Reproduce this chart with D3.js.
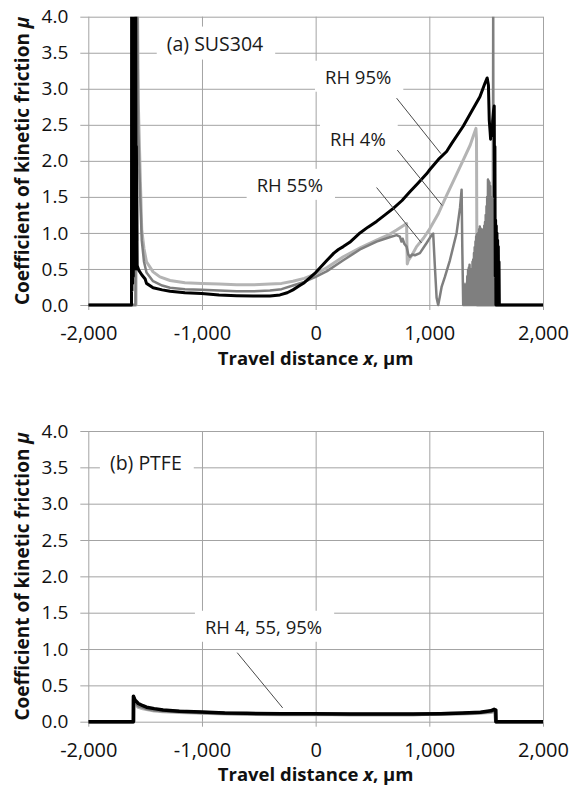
<!DOCTYPE html>
<html>
<head>
<meta charset="utf-8">
<script src="https://cdn.jsdelivr.net/npm/d3@7"></script>
<style>
  html, body { margin: 0; background: #fff; }
</style>
</head>
<body>
<div id="chart"></div>
<script>
// Axis ticks
const xTicks = [-2000, -1000, 0, 1000, 2000];
const yTicks = [0, 0.5, 1, 1.5, 2, 2.5, 3, 3.5, 4];

// (a) SUS304, [travel distance µm, mu]
const susRH4 = [
  [-2000, 0], [-1580, 0], [-1578, 4.3], [-1572, 0.9], [-1568, 4.3], [-1560, 2.8],
  [-1545, 1.9], [-1530, 1.05], [-1510, 0.78], [-1488, 0.6], [-1430, 0.46],
  [-1370, 0.39], [-1281, 0.34], [-1150, 0.31], [-1003, 0.3], [-850, 0.29],
  [-695, 0.28], [-550, 0.28], [-402, 0.29], [-300, 0.3], [-200, 0.33],
  [-100, 0.37], [0, 0.43], [100, 0.52], [243, 0.67], [400, 0.8], [536, 0.9],
  [650, 0.98], [712, 1.04], [770, 1.1], [800, 1.13], [806, 0.57], [815, 0.62],
  [850, 0.7], [888, 0.81], [950, 0.93], [1005, 1.06], [1080, 1.27], [1152, 1.52],
  [1230, 1.78], [1298, 2.01], [1360, 2.22], [1386, 2.34], [1410, 2.45],
  [1415, 2.3], [1420, 0], [2000, 0]
];
const susRH55 = [
  [-2000, 0], [-1585, 0], [-1583, 4.3], [-1576, 0.6], [-1570, 4.3], [-1560, 2.4],
  [-1545, 1.6], [-1530, 0.9], [-1510, 0.6], [-1488, 0.45], [-1430, 0.33],
  [-1350, 0.27], [-1281, 0.24], [-1150, 0.22], [-1003, 0.21], [-850, 0.2],
  [-695, 0.19], [-550, 0.19], [-402, 0.2], [-300, 0.22], [-200, 0.27],
  [-100, 0.32], [0, 0.39], [100, 0.47], [243, 0.62], [400, 0.78], [536, 0.88],
  [650, 0.94], [712, 0.97], [741, 0.95], [755, 0.88], [765, 0.92], [780, 0.85],
  [800, 0.81], [815, 0.7], [829, 0.67], [850, 0.7], [873, 0.69], [917, 0.72],
  [976, 0.86], [1020, 0.97], [1034, 0.99], [1049, 0.53], [1064, 0.1], [1078, 0],
  [1093, 0.12], [1108, 0.25], [1137, 0.39], [1181, 0.62], [1240, 1.0],
  [1270, 1.35], [1284, 1.6], [1290, 0.8], [1298, 0],
  [1301, 0.3], [1304, 0], [1308, 0.28], [1311, 0], [1314, 0.25], [1317, 0],
  [1320, 0.21], [1323, 0], [1327, 0.3], [1330, 0], [1334, 0.4], [1337, 0],
  [1341, 0.49], [1344, 0], [1348, 0.52], [1351, 0.02], [1354, 0.56], [1357, 0],
  [1360, 0.5], [1363, 0], [1367, 0.47], [1370, 0], [1373, 0.45], [1376, 0],
  [1380, 0.6], [1383, 0], [1386, 0.63], [1389, 0], [1393, 0.72], [1396, 0],
  [1399, 0.8], [1402, 0], [1406, 0.88], [1409, 0], [1412, 0.95], [1415, 0],
  [1419, 0.98], [1422, 0], [1425, 0.96], [1428, 0], [1431, 1.0], [1434, 0],
  [1438, 1.05], [1441, 0], [1444, 1.09], [1447, 0], [1451, 1.06], [1454, 0],
  [1457, 1.05], [1460, 0], [1464, 0.98], [1467, 0], [1470, 0.95], [1473, 0],
  [1477, 1.05], [1480, 0], [1483, 1.1], [1486, 0], [1490, 1.15], [1493, 0],
  [1496, 1.25], [1499, 0], [1503, 1.37], [1506, 0], [1509, 1.5], [1512, 0],
  [1516, 1.74], [1519, 0], [1522, 1.72], [1525, 0], [1529, 1.7], [1532, 0],
  [1535, 1.65], [1538, 0], [1542, 1.5], [1545, 0], [1548, 1.4], [1551, 0],
  [1555, 1.3], [1558, 0], [1562, 4.3], [1565, 0], [1568, 1.0], [1571, 0],
  [1574, 0.6], [1577, 0], [2000, 0]
];
const susRH95 = [
  [-2000, 0], [-1620, 0], [-1619, 4.3], [-1616, 0.2], [-1613, 4.3], [-1610, 0.3],
  [-1607, 4.3], [-1604, 0.4], [-1601, 4.3], [-1598, 0.5], [-1595, 4.3],
  [-1592, 0.6], [-1589, 4.3], [-1586, 0.6], [-1583, 4.3], [-1580, 0.5],
  [-1577, 2.2], [-1570, 0.55], [-1555, 0.48], [-1530, 0.42], [-1500, 0.36],
  [-1488, 0.3], [-1430, 0.24], [-1350, 0.21], [-1281, 0.19], [-1150, 0.17],
  [-1003, 0.16], [-850, 0.14], [-695, 0.13], [-550, 0.125], [-402, 0.125],
  [-314, 0.14], [-250, 0.17], [-200, 0.21], [-140, 0.27], [-100, 0.31],
  [-50, 0.38], [0, 0.45], [100, 0.62], [160, 0.72], [200, 0.77], [243, 0.81],
  [300, 0.87], [390, 1.0], [460, 1.08], [536, 1.16], [610, 1.25], [683, 1.34],
  [760, 1.45], [829, 1.57], [900, 1.69], [976, 1.82], [1005, 1.88], [1080, 2.02],
  [1152, 2.13], [1200, 2.25], [1298, 2.48], [1370, 2.68], [1445, 2.89],
  [1490, 3.08], [1509, 3.15], [1520, 3.05], [1527, 2.57], [1535, 2.4],
  [1539, 2.3], [1545, 2.45], [1552, 2.35], [1557, 2.55], [1565, 2.7],
  [1571, 2.76], [1574, 1.5], [1577, 2.2], [1580, 0.4], [1583, 1.18], [1586, 0],
  [1589, 1.1], [1592, 0], [1595, 1.0], [1598, 0], [1601, 0.9], [1604, 0],
  [1607, 0.81], [1610, 0], [1613, 0.6], [1616, 0], [2000, 0]
];

// (b) PTFE
const ptfeRH4 = [
  [-2000, 0], [-1600, 0], [-1599, 0.28], [-1585, 0.24], [-1560, 0.2],
  [-1520, 0.18], [-1488, 0.17], [-1420, 0.15], [-1342, 0.14], [-1200, 0.13],
  [-1003, 0.12], [-800, 0.11], [-607, 0.105], [-300, 0.1], [-23, 0.1],
  [300, 0.1], [600, 0.1], [858, 0.1], [1100, 0.105], [1298, 0.11],
  [1450, 0.12], [1540, 0.13], [1580, 0.14], [1584, 0], [2000, 0]
];
const ptfeRH55 = [
  [-2000, 0], [-1602, 0], [-1601, 0.31], [-1588, 0.27], [-1560, 0.22],
  [-1520, 0.2], [-1488, 0.18], [-1420, 0.16], [-1342, 0.15], [-1200, 0.14],
  [-1003, 0.125], [-800, 0.115], [-607, 0.11], [-300, 0.105], [-23, 0.105],
  [300, 0.1], [600, 0.1], [858, 0.1], [1100, 0.11], [1298, 0.115],
  [1450, 0.125], [1540, 0.14], [1580, 0.15], [1585, 0], [2000, 0]
];
const ptfeRH95 = [
  [-2000, 0], [-1604, 0], [-1603, 0.35], [-1590, 0.3], [-1560, 0.25],
  [-1520, 0.22], [-1488, 0.2], [-1420, 0.18], [-1342, 0.16], [-1200, 0.145],
  [-1003, 0.135], [-800, 0.12], [-607, 0.115], [-300, 0.11], [-23, 0.11],
  [300, 0.105], [600, 0.105], [858, 0.105], [1100, 0.11], [1298, 0.12],
  [1450, 0.13], [1540, 0.15], [1570, 0.17], [1585, 0.16], [1586, 0], [2000, 0]
];

const width = 570;
const height = 790;
const gridColor = "#a3a3a3";
const font = "'Open Sans', sans-serif";

const x = d3.scaleLinear().domain([-2000, 2000]).range([88.3, 543]);

const svg = d3
  .select("#chart")
  .append("svg")
  .attr("width", width)
  .attr("height", height)
  .style("font-family", font);

svg.append("rect").attr("width", width).attr("height", height).attr("fill", "#fff");

const fmtX = (d) => d3.format(",")(d).replace("\u2212", "-");

function drawPanel(cfg, idx) {
  const y = d3.scaleLinear().domain([0, 4]).range([cfg.bottom, cfg.top]);
  const g = svg.append("g");
  const plotW = x(2000) - x(-2000);

  // Gridlines
  g.append("g")
    .attr("transform", `translate(${x(-2000)},0)`)
    .call(d3.axisLeft(y).tickValues(yTicks).tickSize(-plotW).tickFormat(""))
    .call((s) => s.select(".domain").remove())
    .call((s) => s.selectAll(".tick line").attr("stroke", gridColor));
  g.append("g")
    .attr("transform", `translate(0,${y(0)})`)
    .call(d3.axisBottom(x).tickValues(xTicks).tickSize(-(y(0) - y(4))).tickFormat(""))
    .call((s) => s.select(".domain").remove())
    .call((s) => s.selectAll(".tick line").attr("stroke", gridColor));

  // Y axis ticks + labels
  g.append("g")
    .attr("transform", `translate(${x(-2000)},0)`)
    .call(d3.axisLeft(y).tickValues(yTicks).tickSize(8).tickPadding(12).tickFormat(d3.format(".1f")))
    .call((s) => s.select(".domain").remove())
    .call((s) => s.selectAll(".tick line").attr("stroke", gridColor))
    .call((s) =>
      s.selectAll(".tick text")
        .attr("font-size", "19px")
        .attr("font-family", font)
        .attr("fill", "#111"),
    );

  // X axis ticks + labels
  g.append("g")
    .attr("transform", `translate(0,${y(0)})`)
    .call(d3.axisBottom(x).tickValues(xTicks).tickSize(5).tickPadding(16).tickFormat(fmtX))
    .call((s) => s.select(".domain").remove())
    .call((s) => s.selectAll(".tick line").attr("stroke", gridColor))
    .call((s) =>
      s.selectAll(".tick text")
        .attr("font-size", "20px")
        .attr("font-family", font)
        .attr("fill", "#111"),
    );

  // White label boxes that hide gridlines
  const labels = g.append("g");
  cfg.labels.forEach((l) => {
    const box = labels.append("rect").attr("fill", "#fff");
    const t = labels
      .append("text")
      .attr("x", x(l.x))
      .attr("y", y(l.y))
      .attr("font-size", l.size + "px")
      .attr("fill", "#1a1a1a")
      .text(l.text);
    const b = t.node().getBBox();
    box
      .attr("x", b.x - 10)
      .attr("y", b.y - 3)
      .attr("width", b.width + 22)
      .attr("height", b.height + 6);
  });

  // Data lines
  const clipId = "clip" + idx;
  svg.append("clipPath").attr("id", clipId)
    .append("rect")
    .attr("x", x(-2000))
    .attr("y", y(4))
    .attr("width", plotW + 2)
    .attr("height", y(0) - y(4) + 3);

  const line = d3.line().x((d) => x(d[0])).y((d) => y(d[1]));
  g.append("g")
    .attr("clip-path", `url(#${clipId})`)
    .selectAll("path")
    .data(cfg.series)
    .join("path")
    .attr("d", (d) => line(d.values))
    .attr("fill", "none")
    .attr("stroke", (d) => d.color)
    .attr("stroke-width", (d) => d.width)
    .attr("stroke-linejoin", "round");

  // Leader lines
  g.append("g")
    .selectAll("line")
    .data(cfg.leaders)
    .join("line")
    .attr("x1", (d) => x(d[0][0]))
    .attr("y1", (d) => y(d[0][1]))
    .attr("x2", (d) => x(d[1][0]))
    .attr("y2", (d) => y(d[1][1]))
    .attr("stroke", "#4a4a4a")
    .attr("stroke-width", 1);

  // Axis titles
  const yt = g.append("text")
    .attr("transform", `translate(29,${(y(0) + y(4)) / 2}) rotate(-90)`)
    .attr("text-anchor", "middle")
    .attr("font-size", "19px")
    .attr("font-weight", "700")
    .attr("fill", "#111");
  yt.append("tspan").text("Coefficient of kinetic friction ");
  yt.append("tspan").attr("font-style", "italic").text("\u03bc");

  const xt = g.append("text")
    .attr("x", (x(-2000) + x(2000)) / 2)
    .attr("y", y(0) + 59.5)
    .attr("text-anchor", "middle")
    .attr("font-size", "18.5px")
    .attr("font-weight", "700")
    .attr("fill", "#111");
  xt.append("tspan").text("Travel distance ");
  xt.append("tspan").attr("font-style", "italic").text("x");
  xt.append("tspan").text(", \u03bcm");
}

drawPanel({
  top: 16.7,
  bottom: 305,
  series: [
    { values: susRH4, color: "#b4b4b4", width: 3 },
    { values: susRH55, color: "#7f7f7f", width: 2.5 },
    { values: susRH95, color: "#000", width: 3 },
  ],
  labels: [
    { text: "(a) SUS304", x: -1310, y: 3.53, size: 19.5 },
    { text: "RH 95%", x: 82, y: 3.07, size: 18.5 },
    { text: "RH 4%", x: 126, y: 2.2, size: 18.5 },
    { text: "RH 55%", x: -519, y: 1.57, size: 18.5 },
  ],
  leaders: [
    [[712, 2.87], [1102, 2.1]],
    [[718, 2.15], [1113, 1.38]],
    [[536, 1.63], [932, 0.86]],
  ],
}, 0);

drawPanel({
  top: 431,
  bottom: 721.7,
  series: [
    { values: ptfeRH4, color: "#b4b4b4", width: 3.5 },
    { values: ptfeRH55, color: "#7f7f7f", width: 3.5 },
    { values: ptfeRH95, color: "#000", width: 3.5 },
  ],
  labels: [
    { text: "(b) PTFE", x: -1810, y: 3.47, size: 19.5 },
    { text: "RH 4, 55, 95%", x: -974, y: 1.21, size: 18.5 },
  ],
  leaders: [
    [[-690, 0.95], [-290, 0.19]],
  ],
}, 1);
</script>
</body>
</html>
